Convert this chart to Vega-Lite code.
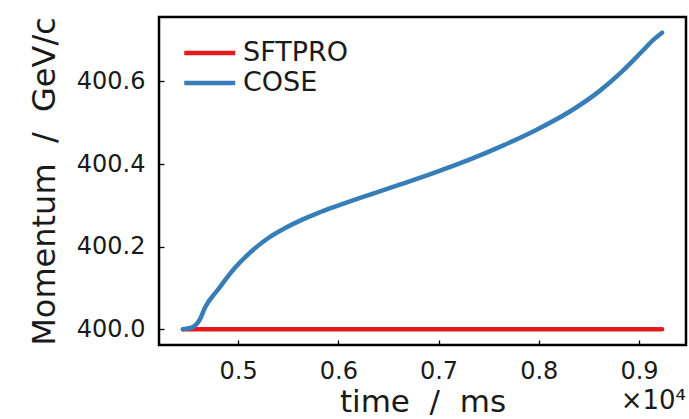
{
  "$schema": "https://vega.github.io/schema/vega-lite/v6.json",
  "width": 527,
  "height": 328,
  "autosize": {"type": "none"},
  "padding": {"left": 159, "top": 17, "right": 3, "bottom": 74},
  "background": "white",
  "config": {"view": {"stroke": "black", "strokeWidth": 2.5}, "font": "DejaVu Sans"},
  "title": {"text": "×10⁴", "orient": "bottom", "anchor": "end", "fontSize": 26, "fontWeight": "normal", "font": "DejaVu Sans", "color": "#1a1a1a", "offset": -29},
  "data": {
    "values": [
      {"series": "SFTPRO", "time": 4450, "p": 400.0},
      {"series": "SFTPRO", "time": 6000, "p": 400.0},
      {"series": "SFTPRO", "time": 8000, "p": 400.0},
      {"series": "SFTPRO", "time": 9230, "p": 400.0},
      {"series": "COSE", "time": 4450, "p": 400.0},
      {"series": "COSE", "time": 4535, "p": 400.004},
      {"series": "COSE", "time": 4619, "p": 400.024},
      {"series": "COSE", "time": 4669, "p": 400.052},
      {"series": "COSE", "time": 4802, "p": 400.097},
      {"series": "COSE", "time": 4969, "p": 400.149},
      {"series": "COSE", "time": 5135, "p": 400.189},
      {"series": "COSE", "time": 5302, "p": 400.221},
      {"series": "COSE", "time": 5469, "p": 400.245},
      {"series": "COSE", "time": 5635, "p": 400.265},
      {"series": "COSE", "time": 5802, "p": 400.282},
      {"series": "COSE", "time": 5969, "p": 400.297},
      {"series": "COSE", "time": 6302, "p": 400.325},
      {"series": "COSE", "time": 6635, "p": 400.352},
      {"series": "COSE", "time": 6969, "p": 400.380},
      {"series": "COSE", "time": 7302, "p": 400.410},
      {"series": "COSE", "time": 7635, "p": 400.444},
      {"series": "COSE", "time": 7969, "p": 400.482},
      {"series": "COSE", "time": 8302, "p": 400.526},
      {"series": "COSE", "time": 8602, "p": 400.576},
      {"series": "COSE", "time": 8835, "p": 400.625},
      {"series": "COSE", "time": 9020, "p": 400.670},
      {"series": "COSE", "time": 9140, "p": 400.700},
      {"series": "COSE", "time": 9230, "p": 400.718}
    ]
  },
  "mark": {"type": "line", "strokeWidth": 4.5, "strokeCap": "round", "strokeJoin": "round", "interpolate": "monotone"},
  "encoding": {
    "x": {
      "field": "time", "type": "quantitative",
      "scale": {"domain": [4211, 9469], "nice": false, "zero": false},
      "axis": {
        "title": "time\u00a0 /\u00a0 ms", "values": [5000, 6000, 7000, 8000, 9000],
        "labelExpr": "format(datum.value/10000, '.1f')",
        "domain": false, "grid": false, "tickSize": -5, "tickColor": "black", "tickWidth": 1.3,
        "labelFontSize": 24, "labelColor": "#1a1a1a", "labelPadding": 19, "labelFont": "DejaVu Sans",
        "titleFontSize": 31, "titleFontWeight": "normal", "titleColor": "#1a1a1a", "titlePadding": 4, "titleFont": "DejaVu Sans"
      }
    },
    "y": {
      "field": "p", "type": "quantitative",
      "scale": {"domain": [399.962, 400.756], "nice": false, "zero": false},
      "axis": {
        "title": "Momentum\u00a0 /\u00a0 GeV/c", "values": [400.0, 400.2, 400.4, 400.6], "format": ".1f",
        "domain": false, "grid": false, "tickSize": -5, "tickColor": "black", "tickWidth": 1.3,
        "labelFontSize": 24, "labelColor": "#1a1a1a", "labelPadding": 19, "labelFont": "DejaVu Sans",
        "titleFontSize": 32, "titleFontWeight": "normal", "titleColor": "#1a1a1a", "titlePadding": 15, "titleFont": "DejaVu Sans"
      }
    },
    "color": {
      "field": "series", "type": "nominal",
      "scale": {"domain": ["SFTPRO", "COSE"], "range": ["#e41a1c", "#377eb8"]},
      "legend": {
        "title": null, "orient": "none", "legendX": 23, "legendY": 21,
        "symbolType": "M-1,0H3", "symbolSize": 650, "symbolStrokeWidth": 4.5,
        "labelFontSize": 27, "labelOffset": 31, "rowPadding": 2, "labelColor": "#1a1a1a", "labelFont": "DejaVu Sans", "padding": 0
      }
    }
  }
}
